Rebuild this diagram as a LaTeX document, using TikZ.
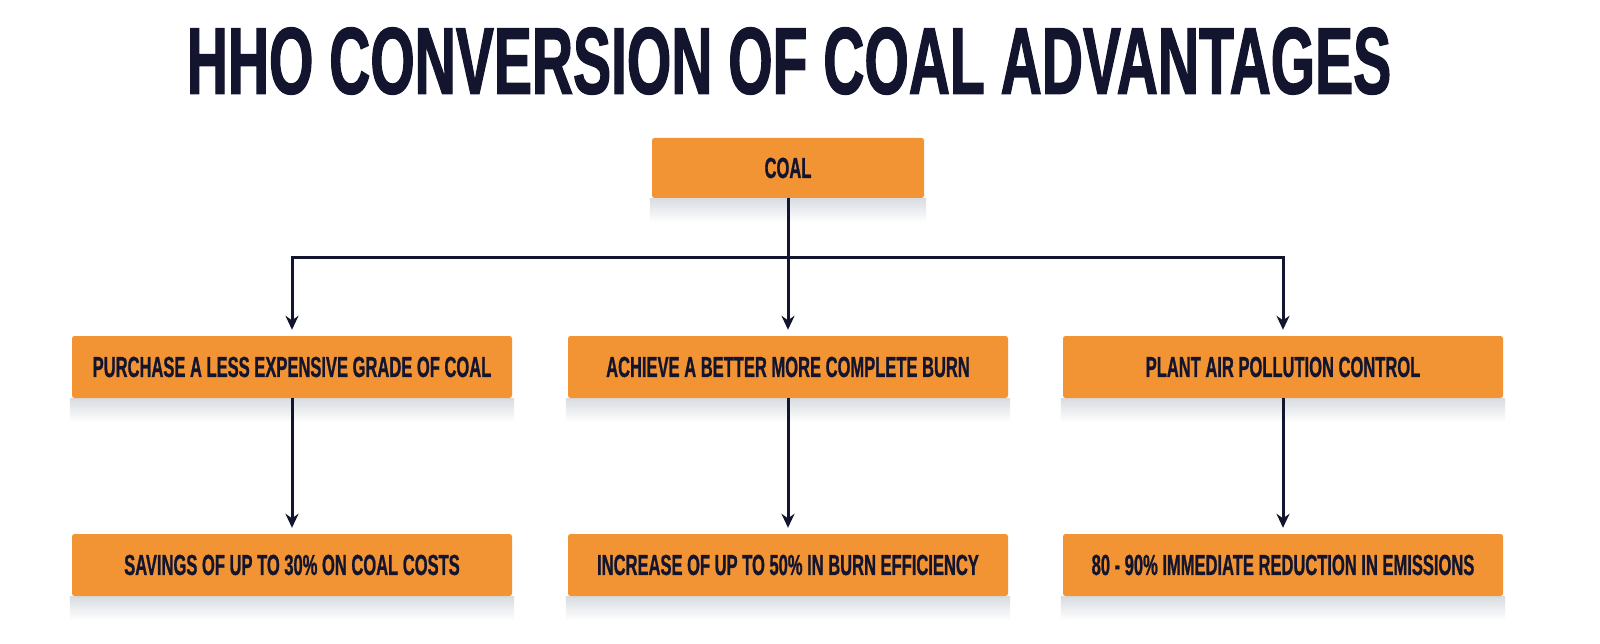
\documentclass[tikz,border=0pt]{standalone}
\usepackage{fontspec}
\setmainfont{Liberation Sans}
\newfontfamily\titlefont{Liberation Sans}[FakeStretch=0.6,FakeBold=1.2]
\newfontfamily\boxfont{Liberation Sans}[FakeStretch=0.57,FakeBold=0.8]
\usetikzlibrary{arrows.meta,backgrounds}
\definecolor{navy}{HTML}{13152F}
\definecolor{boxor}{HTML}{F29433}
\definecolor{shadowgray}{HTML}{D8DCE1}
\tikzset{
  box/.style={fill=boxor, rounded corners=2.5pt, minimum width=440pt, minimum height=62pt, inner sep=0pt,
    text=navy, font=\boxfont\fontsize{29}{32}\selectfont\bfseries},
  arr/.style={draw=navy, line width=3pt, -{Stealth[length=14pt,width=13pt]}, shorten >=6pt},
}
\newcommand{\boxshadow}[1]{\shade[top color=shadowgray, bottom color=white] ([xshift=-2pt]#1.south west) rectangle ([xshift=2pt,yshift=-24pt]#1.south east);}
\begin{document}
\begin{tikzpicture}[x=1pt,y=-1pt]
\useasboundingbox (0,0) rectangle (1600,644);
\node[text=navy, font=\titlefont\fontsize{95}{100}\selectfont\bfseries] (title) at (789,61) {HHO CONVERSION OF COAL ADVANTAGES};
\node[box, minimum width=272pt, minimum height=60pt] (coal) at (788,168) {COAL};
\node[box] (a1) at (292,367) {PURCHASE A LESS EXPENSIVE GRADE OF COAL};
\node[box] (b1) at (788,367) {ACHIEVE A BETTER MORE COMPLETE BURN};
\node[box] (c1) at (1283,367) {PLANT AIR POLLUTION CONTROL};
\node[box] (a2) at (292,565) {SAVINGS OF UP TO 30\% ON COAL COSTS};
\node[box] (b2) at (788,565) {INCREASE OF UP TO 50\% IN BURN EFFICIENCY};
\node[box] (c2) at (1283,565) {80 - 90\% IMMEDIATE REDUCTION IN EMISSIONS};
\begin{scope}[on background layer]
\fill[white] (0,0) rectangle (1600,644);
\foreach \n in {coal,a1,b1,c1,a2,b2,c2}{\boxshadow{\n}}
\end{scope}
\coordinate (j) at (788,258);
\draw[arr] (coal.south) -- (b1.north);
\draw[arr] (j) -| (a1.north);
\draw[arr] (j) -| (c1.north);
\draw[arr] (a1.south) -- (a2.north);
\draw[arr] (b1.south) -- (b2.north);
\draw[arr] (c1.south) -- (c2.north);
\end{tikzpicture}
\end{document}
